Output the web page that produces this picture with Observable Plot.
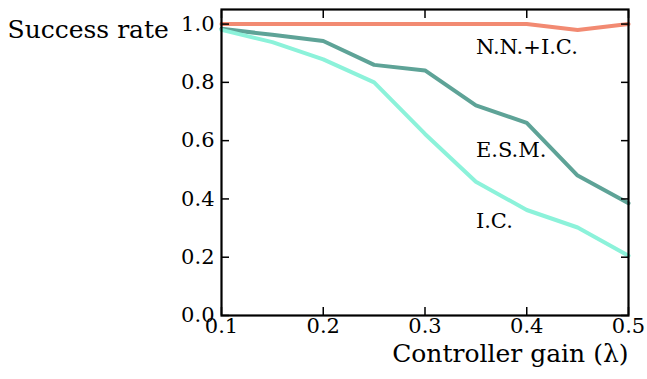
<!DOCTYPE html>
<html>
<head>
<meta charset="utf-8">
<script src="https://cdn.jsdelivr.net/npm/d3@7"></script>
<script src="https://cdn.jsdelivr.net/npm/@observablehq/plot@0.6"></script>
<style>
  html, body { margin: 0; padding: 0; background: #fff; }
  svg { display: block; }
</style>
</head>
<body>
<div id="chart"></div>
<script>
const gains = [0.1, 0.15, 0.2, 0.25, 0.3, 0.35, 0.4, 0.45, 0.5];
const nnic = [1.0, 1.0, 1.0, 1.0, 1.0, 1.0, 1.0, 0.98, 1.0];
const esm  = [0.984, 0.963, 0.942, 0.86, 0.841, 0.721, 0.661, 0.48, 0.385];
const ic   = [0.98, 0.938, 0.879, 0.80, 0.623, 0.459, 0.362, 0.302, 0.205];

const seriesNames = ["N.N.+I.C.", "E.S.M.", "I.C."];
const seriesColors = ["#f28a72", "#5ea397", "#8cf2da"];
const labelX = [0.35, 0.35, 0.35];
const labelY = [0.92, 0.566, 0.322];

const xTicks = [0.1, 0.2, 0.3, 0.4, 0.5];
const yTicks = [0.0, 0.2, 0.4, 0.6, 0.8, 1.0];

const seriesValues = [nnic, esm, ic];
const rows = [];
seriesNames.forEach((name, si) => {
  gains.forEach((g, i) => rows.push({series: name, x: g, y: seriesValues[si][i]}));
});
const labels = seriesNames.map((name, i) => ({name, x: labelX[i], y: labelY[i]}));

const font = "DejaVu Serif";
const fmt = d3.format(".1f");
const T = 8;

const chart = Plot.plot({
  width: 647,
  height: 379,
  marginLeft: 221,
  marginRight: 19,
  marginTop: 9,
  marginBottom: 64,
  style: {fontFamily: font, background: "#fff", color: "#000"},
  x: {domain: [0.1, 0.5]},
  y: {domain: [0, 1.05]},
  color: {domain: seriesNames, range: seriesColors},
  marks: [
    Plot.line(rows, {x: "x", y: "y", z: "series", stroke: "series", strokeWidth: 4, strokeLinejoin: "miter"}),
    Plot.text(labels, {x: "x", y: "y", text: "name", textAnchor: "start", fontSize: 21, fontFamily: font, fill: "#000"}),
    // tick labels
    Plot.axisX({ticks: xTicks, tickSize: 0, tickPadding: 3, tickFormat: fmt, fontSize: 21, fontFamily: font, label: null}),
    Plot.axisY({ticks: yTicks, tickSize: 0, tickPadding: 7, tickFormat: fmt, fontSize: 21, fontFamily: font, label: null}),
    // inward ticks
    Plot.axisX({anchor: "bottom", ticks: xTicks, tickSize: T, dy: -T, text: null, label: null, strokeWidth: 1.5}),
    Plot.axisX({anchor: "top", ticks: xTicks, tickSize: T, dy: T, text: null, label: null, strokeWidth: 1.5}),
    Plot.axisY({anchor: "left", ticks: yTicks, tickSize: T, dx: T, text: null, label: null, strokeWidth: 1.5}),
    Plot.axisY({anchor: "right", ticks: yTicks, tickSize: T, dx: -T, text: null, label: null, strokeWidth: 1.5}),
    Plot.frame({stroke: "#000", strokeWidth: 2.2}),
    // axis titles
    Plot.text(["Success rate"], {frameAnchor: "top-left", text: d => d, dx: -214, dy: 11, textAnchor: "start", fontSize: 25, fontFamily: font, fill: "#000"}),
    Plot.text(["Controller gain (λ)"], {frameAnchor: "bottom-right", text: d => d, dx: 0, dy: 46, textAnchor: "end", fontSize: 25, fontFamily: font, fill: "#000"})
  ]
});
document.getElementById("chart").appendChild(chart);
</script>
</body>
</html>
